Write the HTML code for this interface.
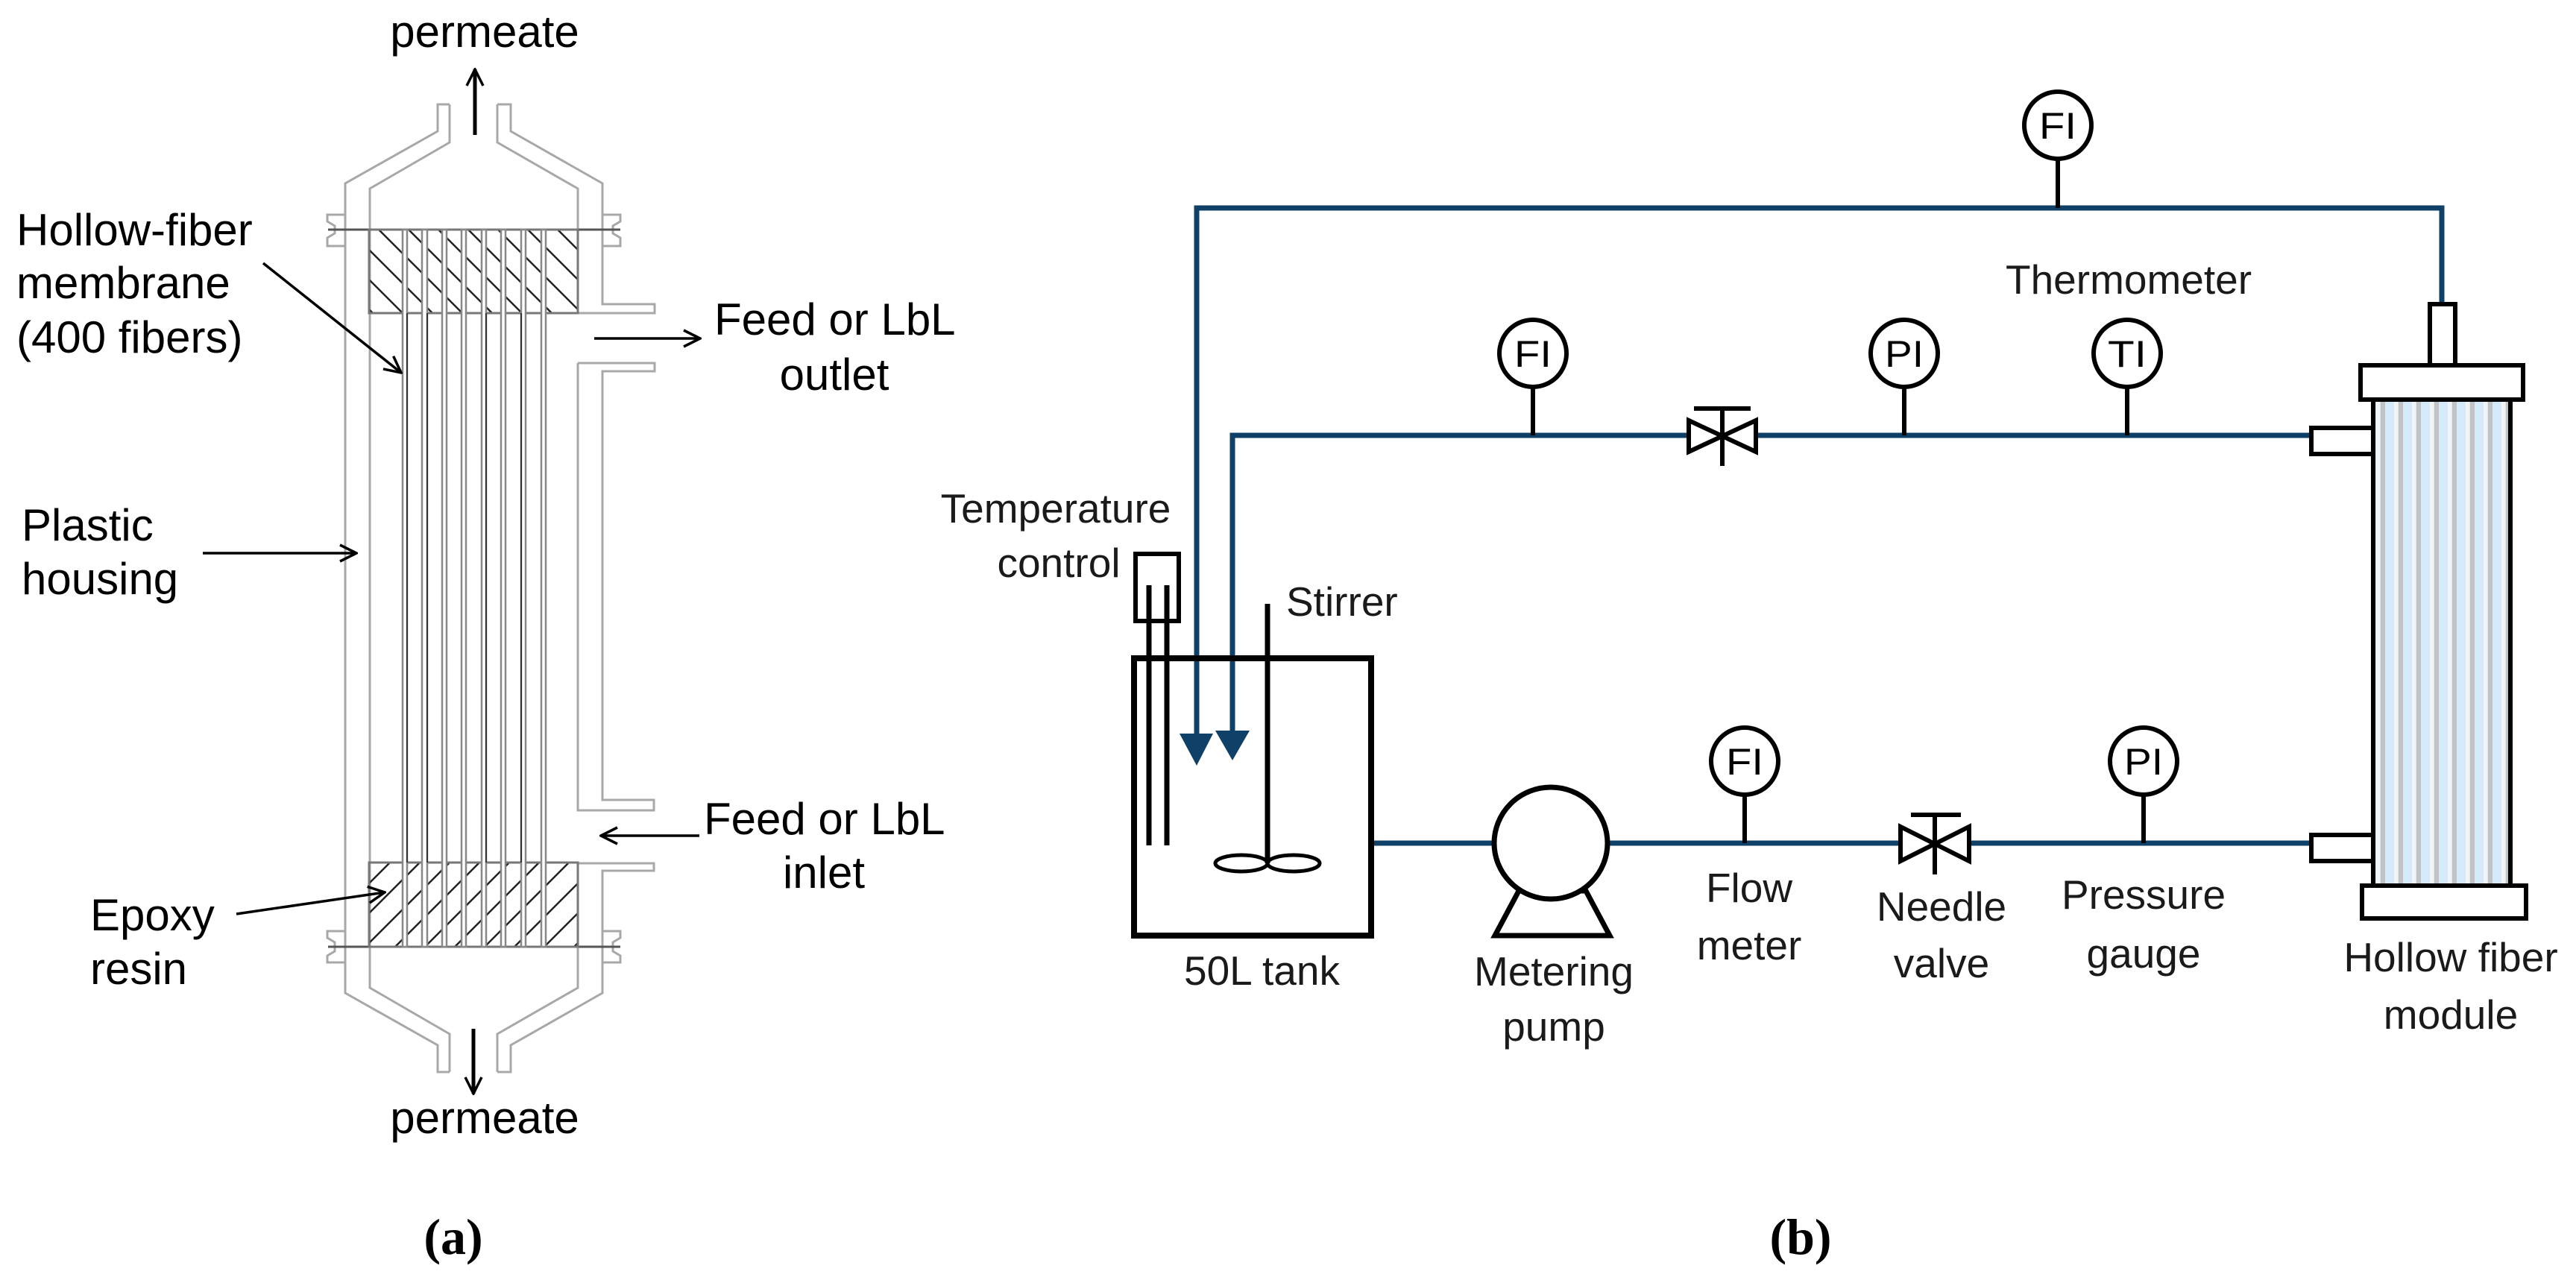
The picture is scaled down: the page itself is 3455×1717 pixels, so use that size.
<!DOCTYPE html>
<html><head><meta charset="utf-8"><style>
html,body{margin:0;padding:0;background:#fff;}
svg{display:block;}
.ta{font-family:"Liberation Sans",sans-serif;font-size:60px;fill:#000;}
.tb{font-family:"Liberation Sans",sans-serif;font-size:55px;fill:#1a1a1a;}
.ci{font-family:"Liberation Sans",sans-serif;font-size:50px;fill:#000;}
.cap{font-family:"Liberation Serif",serif;font-size:68px;font-weight:bold;fill:#000;}
</style></head><body>
<svg width="3455" height="1717" viewBox="0 0 3455 1717" xmlns="http://www.w3.org/2000/svg">
<defs>
<pattern id="hb" patternUnits="userSpaceOnUse" width="40" height="40">
<path d="M-10,-10 L50,50 M-10,30 L10,50 M30,-10 L50,10" stroke="#222" stroke-width="2.5"/>
</pattern>
<pattern id="hf" patternUnits="userSpaceOnUse" width="40" height="40">
<path d="M-10,50 L50,-10 M-10,10 L10,-10 M30,50 L50,30" stroke="#222" stroke-width="2.5"/>
</pattern>
<pattern id="fib" patternUnits="userSpaceOnUse" width="24" height="10" x="3183">
<rect x="0" y="0" width="24" height="10" fill="#d6ebfa"/>
<rect x="10" y="0" width="6" height="10" fill="#c2c2c2"/>
<rect x="4" y="0" width="5" height="10" fill="#f4f4f4"/>
</pattern>
<marker id="ah" viewBox="0 0 26 26" refX="24" refY="13" markerWidth="26" markerHeight="26" markerUnits="userSpaceOnUse" orient="auto">
<path d="M2,2 L24,13 L2,24" fill="none" stroke="#000" stroke-width="3.5"/>
</marker>
</defs>

<!-- ========== Panel (a) ========== -->
<g fill="none" stroke="#a8a8a8" stroke-width="3">
<polyline points="603,140 587,140 587,176 463,246 463,1332 587,1402 587,1438 603,1438"/>
<polyline points="603,140 603,191 496,253 496,1325 603,1387 603,1438"/>
<polyline points="667,140 685,140 685,176 808,246 808,408 878,408 878,420 775,420"/>
<polyline points="667,140 667,191 775,253 775,420"/>
<polyline points="775,487 878,487 878,498 808,498 808,1073 877,1073 877,1087 775,1087 775,487"/>
<polyline points="775,1158 877,1158 877,1168 808,1168 808,1332 685,1402 685,1438 667,1438"/>
<polyline points="775,1158 775,1325 667,1387 667,1438"/>
<polyline points="463,288 439,288 439,297 449,303 449,313 439,319 439,330 463,330"/>
<polyline points="808,288 832,288 832,297 822,303 822,313 832,319 832,330 808,330"/>
<polyline points="463,1249 439,1249 439,1258 449,1264 449,1276 439,1282 439,1291 463,1291"/>
<polyline points="808,1249 832,1249 832,1258 822,1264 822,1276 832,1282 832,1291 808,1291"/>
</g>
<line x1="440" y1="308" x2="832" y2="308" stroke="#555" stroke-width="3"/>
<line x1="440" y1="1270" x2="832" y2="1270" stroke="#555" stroke-width="3"/>
<rect x="495" y="308" width="280" height="112" fill="url(#hb)" stroke="#777" stroke-width="3"/>
<rect x="495" y="1157" width="280" height="113" fill="url(#hf)" stroke="#777" stroke-width="3"/>
<g fill="#fff" stroke="#888" stroke-width="2.5">
<rect x="540" y="308" width="6" height="962"/>
<rect x="566" y="308" width="7" height="962"/>
<rect x="593" y="308" width="6" height="962"/>
<rect x="619" y="308" width="6" height="962"/>
<rect x="646" y="308" width="6" height="962"/>
<rect x="672" y="308" width="6" height="962"/>
<rect x="699" y="308" width="6" height="962"/>
<rect x="726" y="308" width="6" height="962"/>
</g>
<g stroke="#333" stroke-width="2">
<line x1="546" y1="420" x2="546" y2="1157"/><line x1="573" y1="420" x2="573" y2="1157"/>
<line x1="652" y1="420" x2="652" y2="1157"/><line x1="699" y1="420" x2="699" y2="1157"/>
</g>
<g stroke="#000" stroke-width="3.5" fill="none" marker-end="url(#ah)">
<line x1="637" y1="181" x2="637" y2="93" stroke-width="5"/>
<line x1="635" y1="1380" x2="635" y2="1467" stroke-width="5"/>
<line x1="353" y1="353" x2="538" y2="500"/>
<line x1="272" y1="742" x2="478" y2="742"/>
<line x1="797" y1="454" x2="939" y2="454"/>
<line x1="938" y1="1121" x2="806" y2="1121"/>
<line x1="317" y1="1226" x2="516" y2="1197"/>
</g>
<g class="ta">
<text x="650" y="63" text-anchor="middle" class="ta">permeate</text>
<text x="650" y="1520" text-anchor="middle" class="ta">permeate</text>
<text x="22" y="329" class="ta">Hollow-fiber</text>
<text x="22" y="400" class="ta">membrane</text>
<text x="22" y="473" class="ta">(400 fibers)</text>
<text x="29" y="725" class="ta">Plastic</text>
<text x="29" y="797" class="ta">housing</text>
<text x="958" y="449" class="ta">Feed or LbL</text>
<text x="1119" y="523" text-anchor="middle" class="ta">outlet</text>
<text x="944" y="1119" class="ta">Feed or LbL</text>
<text x="1105" y="1191" text-anchor="middle" class="ta">inlet</text>
<text x="121" y="1248" class="ta">Epoxy</text>
<text x="121" y="1320" class="ta">resin</text>
</g>
<text x="608" y="1682" text-anchor="middle" class="cap">(a)</text>

<!-- ========== Panel (b) ========== -->
<g fill="none" stroke="#0f4068" stroke-width="7">
<polyline points="1605,990 1605,279 3275,279 3275,408"/>
<polyline points="1653,985 1653,584 3099,584"/>
<line x1="1842" y1="1131" x2="3099" y2="1131"/>
</g>
<polygon points="1582,984 1627,984 1605,1027" fill="#0f4068"/>
<polygon points="1630,980 1676,980 1653,1020" fill="#0f4068"/>

<g fill="none" stroke="#000" stroke-width="8">
<rect x="1521" y="883" width="318" height="372"/>
<rect x="1523" y="743" width="58" height="90" stroke-width="6"/>
</g>
<g stroke="#000" stroke-width="7">
<line x1="1541" y1="785" x2="1541" y2="1134"/>
<line x1="1565" y1="785" x2="1565" y2="1134"/>
<line x1="1700" y1="810" x2="1700" y2="1158"/>
</g>
<ellipse cx="1665" cy="1158" rx="35" ry="11" fill="none" stroke="#000" stroke-width="5"/>
<ellipse cx="1735" cy="1158" rx="35" ry="11" fill="none" stroke="#000" stroke-width="5"/>

<polygon points="2037,1195 2127,1195 2159,1255 2005,1255" fill="#fff" stroke="#000" stroke-width="7"/>
<ellipse cx="2080" cy="1131" rx="76" ry="75" fill="#fff" stroke="#000" stroke-width="7"/>

<g fill="#fff" stroke="#000" stroke-width="6">
<polygon points="2265,564 2265,606 2310,585 2355,606 2355,564 2310,585"/>
<polygon points="2549,1109 2549,1155 2595,1132 2641,1155 2641,1109 2595,1132"/>
</g>
<g stroke="#000" stroke-width="6">
<line x1="2310" y1="548" x2="2310" y2="625"/><line x1="2272" y1="548" x2="2348" y2="548"/>
<line x1="2595" y1="1093" x2="2595" y2="1173"/><line x1="2563" y1="1093" x2="2630" y2="1093"/>
</g>

<g stroke="#000" stroke-width="6">
<line x1="2760" y1="214" x2="2760" y2="279"/>
<line x1="2056" y1="520" x2="2056" y2="584"/>
<line x1="2554" y1="520" x2="2554" y2="584"/>
<line x1="2853" y1="520" x2="2853" y2="584"/>
<line x1="2340" y1="1067" x2="2340" y2="1131"/>
<line x1="2875" y1="1067" x2="2875" y2="1131"/>
</g>
<g fill="#fff" stroke="#000" stroke-width="6">
<circle cx="2760" cy="168" r="45"/>
<circle cx="2056" cy="474" r="45"/>
<circle cx="2554" cy="474" r="45"/>
<circle cx="2853" cy="474" r="45"/>
<circle cx="2340" cy="1021" r="45"/>
<circle cx="2875" cy="1021" r="45"/>
</g>
<g class="ci" text-anchor="middle">
<text x="2760" y="186" textLength="50" lengthAdjust="spacingAndGlyphs">FI</text>
<text x="2056" y="492" textLength="50" lengthAdjust="spacingAndGlyphs">FI</text>
<text x="2554" y="492" textLength="52" lengthAdjust="spacingAndGlyphs">PI</text>
<text x="2853" y="492" textLength="52" lengthAdjust="spacingAndGlyphs">TI</text>
<text x="2340" y="1039" textLength="50" lengthAdjust="spacingAndGlyphs">FI</text>
<text x="2875" y="1039" textLength="52" lengthAdjust="spacingAndGlyphs">PI</text>
</g>

<rect x="3183" y="536" width="184" height="652" fill="url(#fib)" stroke="#000" stroke-width="6"/>
<g fill="#fff" stroke="#000" stroke-width="6">
<rect x="3259" y="408" width="34" height="82"/>
<rect x="3166" y="490" width="218" height="46"/>
<rect x="3168" y="1188" width="220" height="44"/>
<rect x="3100" y="574" width="83" height="35"/>
<rect x="3100" y="1120" width="83" height="35"/>
</g>

<g class="tb">
<text x="1416" y="701" text-anchor="middle" class="tb">Temperature</text>
<text x="1420" y="774" text-anchor="middle" class="tb">control</text>
<text x="1725" y="826" class="tb">Stirrer</text>
<text x="1588" y="1321" class="tb">50L tank</text>
<text x="2690" y="394" class="tb">Thermometer</text>
<text x="2084" y="1322" text-anchor="middle" class="tb">Metering</text>
<text x="2084" y="1396" text-anchor="middle" class="tb">pump</text>
<text x="2346" y="1210" text-anchor="middle" class="tb">Flow</text>
<text x="2346" y="1287" text-anchor="middle" class="tb">meter</text>
<text x="2604" y="1235" text-anchor="middle" class="tb">Needle</text>
<text x="2604" y="1311" text-anchor="middle" class="tb">valve</text>
<text x="2875" y="1219" text-anchor="middle" class="tb">Pressure</text>
<text x="2875" y="1298" text-anchor="middle" class="tb">gauge</text>
<text x="3287" y="1303" text-anchor="middle" class="tb">Hollow fiber</text>
<text x="3287" y="1380" text-anchor="middle" class="tb">module</text>
</g>
<text x="2415" y="1682" text-anchor="middle" class="cap">(b)</text>
</svg>
</body></html>
